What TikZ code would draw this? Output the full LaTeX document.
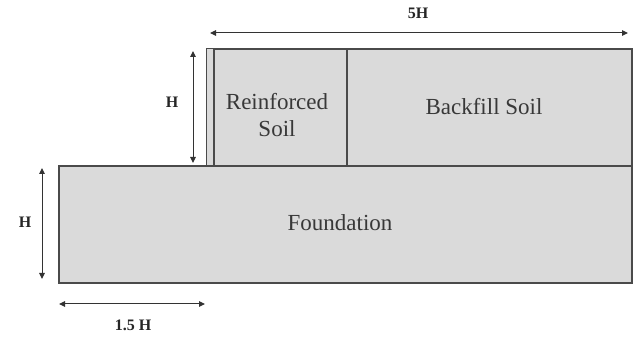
\documentclass[tikz,border=0pt]{standalone}
\usepackage{fontspec}
\setmainfont{Liberation Serif}
\usetikzlibrary{arrows.meta}
\definecolor{soil}{HTML}{DADADA}
\definecolor{edge}{HTML}{4A4A4A}
\definecolor{dim}{HTML}{333333}
\tikzset{
  block/.style={draw=edge, fill=soil, line width=1.9pt, inner sep=0pt, anchor=north west},
  blocktext/.style={font=\fontsize{23}{27}\selectfont, text=black!78},
  dimline/.style={draw=dim, line width=1pt, {Triangle[length=6pt,width=5.5pt]}-{Triangle[length=6pt,width=5.5pt]}},
  dimlabel/.style={font=\bfseries\fontsize{16}{18}\selectfont, text=black!85}
}
\begin{document}
\begin{tikzpicture}[x=1pt,y=-1pt]
\useasboundingbox (0,0) rectangle (633,339);
% foundation
\node[block, minimum width=573pt, minimum height=117pt] (found) at (58,165) {};
\node[blocktext] (foundtxt) at (340,223) {Foundation};
% facing strip
\node[block, line width=1.2pt, minimum width=7pt, minimum height=117pt] (facing) at (206,48) {};
% reinforced soil
\node[block, minimum width=133pt, minimum height=117pt] (reinf) at (213,48) {};
\node[blocktext, align=center] (reinftxt) at (277,115) {Reinforced\\Soil};
% backfill
\node[block, minimum width=285pt, minimum height=117pt] (back) at (346,48) {};
\node[blocktext] (backtxt) at (484,107) {Backfill Soil};
% dimension coordinates
\coordinate (t1) at (210,33);
\coordinate (t2) at (628,33);
\coordinate (u1) at (193,51);
\coordinate (u2) at (193,163);
\coordinate (l1) at (42,168);
\coordinate (l2) at (42,279);
\coordinate (b1) at (59,304);
\coordinate (b2) at (205,304);
\draw[dimline] (t1) -- (t2);
\draw[dimline] (u1) -- (u2);
\draw[dimline] (l1) -- (l2);
\draw[dimline] (b1) -- (b2);
\node[dimlabel] (lab5h) at (418,13) {5H};
\node[dimlabel] (labhu) at (172,102) {H};
\node[dimlabel] (labhl) at (25,222) {H};
\node[dimlabel] (lab15) at (133,325) {1.5 H};
\end{tikzpicture}
\end{document}
